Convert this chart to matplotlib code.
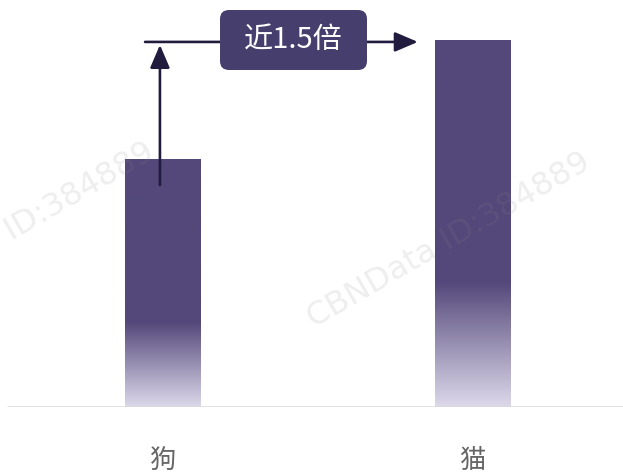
import matplotlib.pyplot as plt
import numpy as np
from matplotlib.colors import LinearSegmentedColormap
from matplotlib.patches import FancyBboxPatch

plt.rcParams['font.family'] = ['Noto Sans CJK SC', 'DejaVu Sans']

# pet counts (relative), cat is close to 1.5x dog
categories = ['狗', '猫']
values = [100, 148]
ratio_label = '近1.5倍'

bar_color = '#54487a'
fade_color = '#dcd8ea'
fade_frac = 0.34   # lower part of each bar fades out

fig = plt.figure(figsize=(6.23, 4.75), dpi=100)
ax = fig.add_axes([0, 0.143, 1, 0.857])
ax.set_xlim(-0.524, 1.486)
ax.set_ylim(0, 164.1)
ax.axis('off')

width = 0.242
x = np.arange(len(categories))

# vertical gradient: light at the bottom, solid above fade_frac
t = np.linspace(0, 1, 256)
grad = np.clip(t / fade_frac, 0, 1)[:, None]
cmap = LinearSegmentedColormap.from_list('fade', [fade_color, bar_color])

bars = ax.bar(x, values, width=width, color='none', edgecolor='none')
for b in bars:
    x0, h = b.get_x(), b.get_height()
    im = ax.imshow(grad, cmap=cmap, origin='lower', aspect='auto',
                   extent=[x0, x0 + b.get_width(), 0, h], zorder=2,
                   interpolation='bilinear')
    im.set_clip_path(b)

# baseline
ax.plot([-0.502, 1.486], [0, 0], color='#d9d9d9', lw=1.8, zorder=3,
        solid_capstyle='butt')

for xi, name in zip(x, categories):
    ax.text(xi, -21.4, name, ha='center', va='center', fontsize=19,
            color='#666666')

# comparison arrows
level = values[1] - 0.8
arrow_kw = dict(arrowstyle='-|>,head_length=0.7,head_width=0.3',
                color='#211c3d', lw=1.9, shrinkA=0, shrinkB=0,
                mutation_scale=20)
ax.annotate('', xy=(x[0] - 0.008, level - 1.2), xytext=(x[0] - 0.008, 89.5),
            arrowprops=arrow_kw, zorder=4)
ax.annotate('', xy=(0.824, level), xytext=(-0.056, level),
            arrowprops=arrow_kw, zorder=4)

# label box (sized in inches so the corners stay round)
box = FancyBboxPatch((2.20, 4.05), 1.47, 0.60,
                     boxstyle='round,pad=0,rounding_size=0.09',
                     transform=fig.dpi_scale_trans, fc='#463f6e', ec='none',
                     zorder=5)
fig.add_artist(box)
fig.text(2.935 / 6.23, 4.35 / 4.75, ratio_label, ha='center', va='center',
         fontsize=21, color='white', zorder=6)

# watermark
for cx, cy in [(0.02, 0.515), (0.72, 0.495)]:
    fig.text(cx, cy, 'CBNData ID:384889', rotation=30, ha='center',
             va='center', fontsize=23, color='#888888', alpha=0.14,
             family='DejaVu Sans', zorder=10)

fig.savefig('out.png', dpi=100)
